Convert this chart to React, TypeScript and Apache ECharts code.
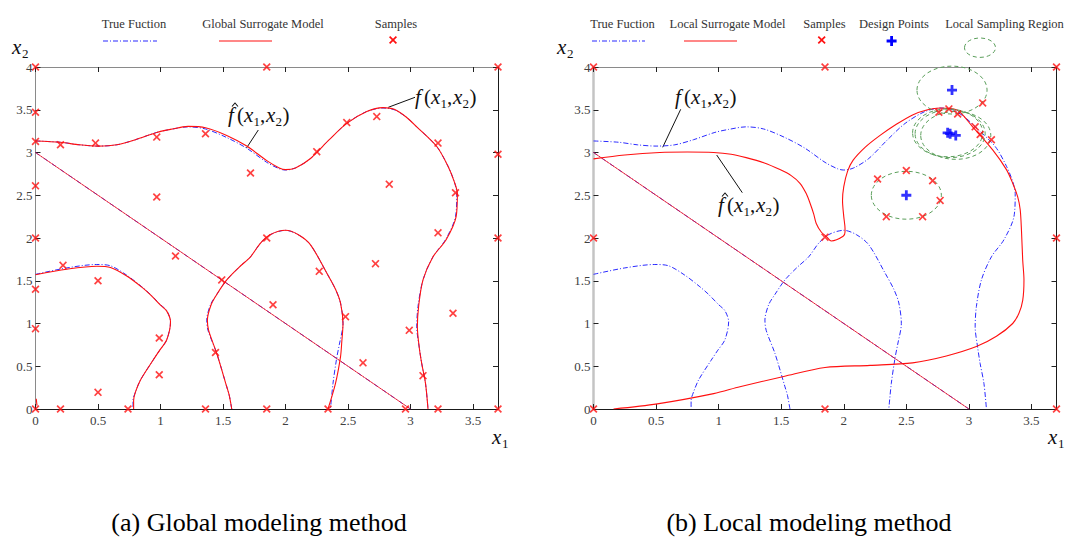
import React, { useEffect, useRef } from "react";
import * as echarts from "echarts";

const FONT = '"Liberation Serif", "Times New Roman", serif';
const BLUE = "#2b2bff";
const RED = "#ff1010";
const GREEN = "#5a9e5a";

const X_MIN = 0;
const X_MAX = 3.7;
const X_STEP = 0.5;
const Y_MIN = 0;
const Y_MAX = 4;
const Y_STEP = 0.5;

// True function contour f(x1,x2) (same in both panels)
const trueTop = [
  [0, 3.135], [0.2, 3.12], [0.35, 3.09], [0.5, 3.075], [0.65, 3.09], [0.8, 3.15],
  [0.97, 3.235], [1.08, 3.27], [1.22, 3.3], [1.36, 3.275], [1.53, 3.175], [1.69, 3.05],
  [1.85, 2.885], [1.95, 2.81], [2.0, 2.795], [2.08, 2.82], [2.2, 2.93], [2.35, 3.15],
  [2.49, 3.34], [2.65, 3.48], [2.78, 3.52], [2.87, 3.5], [2.97, 3.41], [3.05, 3.3],
  [3.21, 3.07], [3.3, 2.84], [3.35, 2.66], [3.37, 2.52], [3.36, 2.25], [3.28, 1.98],
  [3.18, 1.78], [3.1, 1.51], [3.06, 1.2], [3.05, 0.96], [3.07, 0.72], [3.09, 0.53],
  [3.12, 0.3], [3.14, 0],
];
const trueLobe = [
  [0, 1.575], [0.25, 1.65], [0.49, 1.69], [0.6, 1.675], [0.73, 1.565], [0.85, 1.43],
  [0.92, 1.34], [1.0, 1.22], [1.05, 1.15], [1.08, 1.02], [1.05, 0.81], [0.99, 0.68],
  [0.94, 0.57], [0.84, 0.34], [0.8, 0.2], [0.78, 0.1], [0.78, 0],
];
const trueArch = [
  [1.57, 0], [1.55, 0.16], [1.53, 0.26], [1.45, 0.65], [1.38, 0.92], [1.37, 1.04],
  [1.4, 1.22], [1.45, 1.34], [1.53, 1.51], [1.63, 1.66], [1.72, 1.78], [1.8, 1.94],
  [1.88, 2.04], [2.0, 2.09], [2.1, 2.04], [2.2, 1.92], [2.33, 1.59], [2.4, 1.4],
  [2.44, 1.24], [2.46, 1.0], [2.43, 0.75], [2.41, 0.6], [2.38, 0.3], [2.36, 0],
];
const diagonal = [[0, 3], [3, 0]];

// Global surrogate model contour
const globalTop = [
  [0, 3.135], [0.2, 3.12], [0.35, 3.09], [0.5, 3.075], [0.65, 3.09], [0.8, 3.15],
  [0.97, 3.235], [1.08, 3.27], [1.22, 3.305], [1.36, 3.29], [1.53, 3.2], [1.69, 3.075],
  [1.85, 2.905], [1.95, 2.82], [2.0, 2.8], [2.08, 2.82], [2.2, 2.93], [2.35, 3.15],
  [2.49, 3.34], [2.65, 3.48], [2.78, 3.525], [2.87, 3.505], [2.97, 3.41], [3.05, 3.3],
  [3.21, 3.07], [3.3, 2.84], [3.35, 2.66], [3.375, 2.52], [3.365, 2.25], [3.285, 1.98],
  [3.18, 1.78], [3.1, 1.51], [3.065, 1.2], [3.055, 0.96], [3.07, 0.72], [3.09, 0.53],
  [3.12, 0.3], [3.14, 0],
];
const globalLobe = [
  [0, 1.57], [0.25, 1.635], [0.49, 1.67], [0.6, 1.655], [0.73, 1.555], [0.85, 1.425],
  [0.92, 1.335], [1.0, 1.215], [1.05, 1.145], [1.08, 1.02], [1.05, 0.81], [0.99, 0.68],
  [0.94, 0.57], [0.84, 0.34], [0.8, 0.2], [0.785, 0.1], [0.785, 0],
];
const globalArch = [
  [1.57, 0], [1.55, 0.16], [1.53, 0.26], [1.45, 0.65], [1.385, 0.92], [1.375, 1.04],
  [1.405, 1.22], [1.45, 1.34], [1.53, 1.51], [1.63, 1.66], [1.72, 1.78], [1.8, 1.94],
  [1.88, 2.04], [2.0, 2.09], [2.1, 2.04], [2.2, 1.92], [2.33, 1.59], [2.4, 1.4],
  [2.44, 1.24], [2.46, 1.0], [2.45, 0.78], [2.44, 0.61], [2.4, 0.3], [2.34, 0],
];
const globalOrigin = [[0.006, 0.12], [0.012, 0.04]];

// Local surrogate model contour
const localCurve = [
  [0, 2.925], [0.25, 2.97], [0.53, 3.0], [0.75, 3.005], [0.96, 3.0], [1.1, 2.98],
  [1.22, 2.94], [1.36, 2.88], [1.49, 2.8], [1.58, 2.73], [1.65, 2.64], [1.7, 2.52],
  [1.73, 2.41], [1.76, 2.28], [1.78, 2.17], [1.82, 2.07], [1.86, 2.02], [1.9, 1.965],
  [1.995, 2.02], [2.01, 2.07], [2.01, 2.11], [2.0, 2.25], [1.99, 2.44], [2.0, 2.6],
  [2.03, 2.78], [2.075, 2.91], [2.17, 3.06], [2.29, 3.2], [2.42, 3.33], [2.55, 3.44],
  [2.67, 3.5], [2.77, 3.52], [2.9, 3.5], [3.03, 3.3], [3.19, 3.03], [3.3, 2.8],
  [3.35, 2.64], [3.39, 2.48], [3.41, 2.33], [3.42, 2.09], [3.43, 1.74], [3.44, 1.51],
  [3.43, 1.27], [3.4, 1.12], [3.35, 1.0], [3.22, 0.85], [3.06, 0.73], [2.82, 0.62],
  [2.55, 0.54], [2.21, 0.51], [1.85, 0.485], [1.52, 0.38], [1.17, 0.26], [0.96, 0.18],
  [0.51, 0.06], [0.16, 0],
];

const globalSamples = [
  [0, 4], [1.85, 4], [3.7, 4],
  [0, 3.47], [0, 3.13], [0.2, 3.09], [0.48, 3.11], [0.97, 3.18], [1.36, 3.22], [1.72, 2.76],
  [0.97, 2.48], [0, 2.61], [0, 2.0], [1.85, 2.0],
  [2.25, 3.01], [2.49, 3.35], [2.73, 3.42], [3.22, 3.11], [2.83, 2.63], [3.36, 2.53],
  [3.7, 2.98], [3.22, 2.06], [3.7, 2.0],
  [0.22, 1.68], [0.5, 1.5], [0, 1.4], [0, 0.94], [1.12, 1.79], [1.49, 1.51], [0.99, 0.83],
  [0.99, 0.4], [0.5, 0.195], [1.44, 0.66],
  [0, 0], [0.2, 0], [0.74, 0], [1.36, 0], [1.85, 0],
  [2.72, 1.7], [2.27, 1.61], [1.9, 1.22], [2.48, 1.08], [3.34, 1.12], [2.99, 0.92],
  [2.62, 0.54], [3.1, 0.39], [2.34, 0], [2.96, 0], [3.22, 0], [3.7, 0],
];
const localSamples = [
  [0, 4], [1.85, 4], [3.7, 4], [0, 2], [1.85, 2.01], [3.7, 2], [0, 0], [1.85, 0], [3.7, 0],
  [3.11, 3.58], [2.76, 3.47], [2.84, 3.51], [2.91, 3.45], [3.05, 3.3], [3.09, 3.21], [3.18, 3.15],
  [2.27, 2.69], [2.5, 2.79], [2.71, 2.67], [2.77, 2.44], [2.34, 2.25], [2.63, 2.25],
];
const designPoints = [[2.865, 3.73], [2.83, 3.23], [2.85, 3.22], [2.895, 3.2], [2.5, 2.5]];
// [centre x1, centre x2, radius]
const samplingRegions = [
  [2.865, 3.73, 0.28], [2.83, 3.23, 0.28], [2.85, 3.22, 0.28], [2.895, 3.2, 0.28], [2.5, 2.5, 0.28],
];

const CROSS = "path://M0,1.5L1.5,0L5,3.5L8.5,0L10,1.5L6.5,5L10,8.5L8.5,10L5,6.5L1.5,10L0,8.5L3.5,5Z";
const PLUS = "path://M3.6,0H6.4V3.6H10V6.4H6.4V10H3.6V6.4H0V3.6H3.6Z";

function crossPts(cx: number, cy: number, s: number) {
  const u = [[0, 1.5], [1.5, 0], [5, 3.5], [8.5, 0], [10, 1.5], [6.5, 5], [10, 8.5], [8.5, 10], [5, 6.5], [1.5, 10], [0, 8.5], [3.5, 5]];
  return u.map(([a, b]) => [cx + (a - 5) * s / 10, cy + (b - 5) * s / 10]);
}
function plusPts(cx: number, cy: number, s: number) {
  const u = [[3.6, 0], [6.4, 0], [6.4, 3.6], [10, 3.6], [10, 6.4], [6.4, 6.4], [6.4, 10], [3.6, 10], [3.6, 6.4], [0, 6.4], [0, 3.6], [3.6, 3.6]];
  return u.map(([a, b]) => [cx + (a - 5) * s / 10, cy + (b - 5) * s / 10]);
}

function mathLabel(x0: number, base: number, hat: boolean) {
  const s = 21;
  const ss = 13;
  const main = (t: string, dx: number, italic: boolean) => ({
    type: "text", x: x0 + dx, y: base - 0.34 * s,
    style: { text: t, font: `${italic ? "italic " : ""}${s}px ${FONT}`, fill: "#111", textVerticalAlign: "middle" },
  });
  const sub = (t: string, dx: number) => ({
    type: "text", x: x0 + dx, y: base + 4 - 0.34 * ss,
    style: { text: t, font: `${ss}px ${FONT}`, fill: "#111", textVerticalAlign: "middle" },
  });
  const els: any[] = [
    main("f", 0, true), main("(", 9, false), main("x", 16, true), sub("1", 25.5),
    main(",", 32, false), main("x", 38, true), sub("2", 47.5), main(")", 54.5, false),
  ];
  if (hat) {
    const top = base - 19;
    els.push({
      type: "polyline",
      shape: { points: [[x0 + 4, top + 3.5], [x0 + 7, top], [x0 + 10, top + 3.5]] },
      style: { stroke: "#111", lineWidth: 1.1, fill: "none" },
    });
  }
  return els;
}

function axisTitle(x0: number, base: number, subText: string) {
  return [
    { type: "text", x: x0, y: base - 0.34 * 21, style: { text: "x", font: `italic 21px ${FONT}`, fill: "#111", textVerticalAlign: "middle" } },
    { type: "text", x: x0 + 10, y: base + 4 - 0.34 * 13, style: { text: subText, font: `13px ${FONT}`, fill: "#111", textVerticalAlign: "middle" } },
  ];
}

function legendText(cx: number, text: string) {
  return { type: "text", x: cx, y: 24, style: { text, font: `12.5px ${FONT}`, fill: "#333", textAlign: "center", textVerticalAlign: "middle" } };
}
function legendLine(x1: number, x2: number, color: string, dash: number[] | null) {
  return { type: "line", shape: { x1, y1: 41, x2, y2: 41 }, style: { stroke: color, lineWidth: 1.2, lineDash: dash || undefined } };
}

function buildGraphic() {
  const els: any[] = [];
  // left legend
  els.push(legendText(134, "True Fuction"), legendLine(103, 157, BLUE, [5, 2, 1, 2]));
  els.push(legendText(263, "Global Surrogate Model"), legendLine(219, 272, RED, null));
  els.push(legendText(396, "Samples"), { type: "polygon", shape: { points: crossPts(393, 40, 8) }, style: { fill: RED } });
  // right legend
  els.push(legendText(622.5, "True Fuction"), legendLine(592, 645, BLUE, [5, 2, 1, 2]));
  els.push(legendText(727.5, "Local Surrogate Model"), legendLine(684, 737, RED, null));
  els.push(legendText(824.5, "Samples"), { type: "polygon", shape: { points: crossPts(821.7, 40, 8) }, style: { fill: RED } });
  els.push(legendText(894, "Design Points"), { type: "polygon", shape: { points: plusPts(891.6, 41, 10) }, style: { fill: "#0000ff" } });
  els.push(legendText(1004.5, "Local Sampling Region"), {
    type: "ellipse", shape: { cx: 980, cy: 47.7, rx: 15.5, ry: 9.7 },
    style: { fill: "none", stroke: GREEN, lineWidth: 1, lineDash: [4, 3] },
  });
  // axis titles
  els.push(...axisTitle(12, 54, "2"), ...axisTitle(492, 444, "1"));
  els.push(...axisTitle(557, 54, "2"), ...axisTitle(1048, 444, "1"));
  // annotations
  els.push(...mathLabel(415, 104, false), ...mathLabel(228, 122, true));
  els.push({ type: "line", shape: { x1: 415, y1: 97.3, x2: 388.3, y2: 107.3 }, style: { stroke: "#111", lineWidth: 1 } });
  els.push({ type: "line", shape: { x1: 258.3, y1: 130, x2: 246.5, y2: 148 }, style: { stroke: "#111", lineWidth: 1 } });
  els.push(...mathLabel(675, 104, false), ...mathLabel(718, 212, true));
  els.push({ type: "line", shape: { x1: 680.7, y1: 109.3, x2: 662.7, y2: 147.3 }, style: { stroke: "#111", lineWidth: 1 } });
  els.push({ type: "line", shape: { x1: 742.3, y1: 192.7, x2: 716.7, y2: 155 }, style: { stroke: "#111", lineWidth: 1 } });
  // captions
  els.push({ type: "text", x: 259, y: 522, style: { text: "(a) Global modeling method", font: `26px ${FONT}`, fill: "#000", textAlign: "center", textVerticalAlign: "middle" } });
  els.push({ type: "text", x: 809, y: 522, style: { text: "(b) Local modeling method", font: `26px ${FONT}`, fill: "#000", textAlign: "center", textVerticalAlign: "middle" } });
  return els;
}

function xAxisDef(gridIndex: number, position: string, showLabel: boolean, color: string, width: number) {
  return {
    type: "value", gridIndex, position, min: X_MIN, max: X_MAX, interval: X_STEP,
    axisLine: { show: true, onZero: false, lineStyle: { color, width } },
    axisTick: { show: true, inside: true, length: 5, lineStyle: { color: "#222", width: 1 } },
    axisLabel: {
      show: showLabel, margin: 5, fontFamily: FONT, fontSize: 13, color: "#404040",
      formatter: (v: number) => (Math.abs(v - X_MAX) < 1e-9 ? "" : String(+v.toFixed(2))),
    },
    splitLine: { show: false },
  };
}
function yAxisDef(gridIndex: number, position: string, showLabel: boolean, color: string, width: number) {
  return {
    type: "value", gridIndex, position, min: Y_MIN, max: Y_MAX, interval: Y_STEP,
    axisLine: { show: true, onZero: false, lineStyle: { color, width } },
    axisTick: { show: true, inside: true, length: 5, lineStyle: { color: "#222", width: 1 } },
    axisLabel: { show: showLabel, margin: 3, fontFamily: FONT, fontSize: 13, color: "#404040" },
    splitLine: { show: false },
  };
}

function trueLine(data: number[][], ax: number) {
  return {
    type: "line", xAxisIndex: ax, yAxisIndex: ax, data, symbol: "none", smooth: 0.3, silent: true, z: 2,
    lineStyle: { color: BLUE, width: 1, type: [5, 2, 1, 2] },
  };
}
function modelLine(data: number[][], ax: number, width = 1.1) {
  return {
    type: "line", xAxisIndex: ax, yAxisIndex: ax, data, symbol: "none", smooth: 0.3, silent: true, z: 3,
    lineStyle: { color: RED, width },
  };
}

export default function App() {
  const ref = useRef<HTMLDivElement>(null);
  useEffect(() => {
    if (!ref.current) return;
    const chart = echarts.init(ref.current, null, { renderer: "svg" });
    const series: any[] = [
      trueLine(trueTop, 0), trueLine(trueLobe, 0), trueLine(trueArch, 0), trueLine(diagonal, 0),
      modelLine(globalTop, 0), modelLine(globalLobe, 0), modelLine(globalArch, 0), modelLine(diagonal, 0, 0.8),
      modelLine(globalOrigin, 0),
      trueLine(trueTop, 1), trueLine(trueLobe, 1), trueLine(trueArch, 1), trueLine(diagonal, 1),
      modelLine(localCurve, 1), modelLine(diagonal, 1, 0.8),
      {
        type: "custom", xAxisIndex: 1, yAxisIndex: 1, data: samplingRegions, silent: true, z: 4,
        renderItem: (params: any, api: any) => {
          const c = api.coord([api.value(0), api.value(1)]);
          const s = api.size([api.value(2), api.value(2)]);
          return {
            type: "ellipse",
            shape: { cx: c[0], cy: c[1], rx: s[0], ry: s[1] },
            style: { fill: "none", stroke: GREEN, lineWidth: 1, lineDash: [4, 3] },
          };
        },
      },
      {
        type: "scatter", xAxisIndex: 0, yAxisIndex: 0, data: globalSamples, symbol: CROSS, symbolSize: 8,
        itemStyle: { color: RED }, clip: false, z: 6, silent: true,
      },
      {
        type: "scatter", xAxisIndex: 1, yAxisIndex: 1, data: localSamples, symbol: CROSS, symbolSize: 8,
        itemStyle: { color: RED }, clip: false, z: 6, silent: true,
      },
      {
        type: "scatter", xAxisIndex: 1, yAxisIndex: 1, data: designPoints, symbol: PLUS, symbolSize: 10,
        itemStyle: { color: "#0000ff" }, clip: false, z: 7, silent: true,
      },
    ];
    chart.setOption({
      animation: false,
      backgroundColor: "#ffffff",
      grid: [
        { left: 35.5, top: 67, width: 462.5, height: 342 },
        { left: 593.5, top: 67, width: 463, height: 342 },
      ],
      xAxis: [
        xAxisDef(0, "bottom", true, "#1a1a1a", 1),
        xAxisDef(1, "bottom", true, "#1a1a1a", 1),
        xAxisDef(0, "top", false, "#8a8a8a", 1),
        xAxisDef(1, "top", false, "#8a8a8a", 1),
      ],
      yAxis: [
        yAxisDef(0, "left", true, "#8a8a8a", 1),
        yAxisDef(1, "left", true, "#c4c4c4", 2.5),
        yAxisDef(0, "right", false, "#1a1a1a", 1),
        yAxisDef(1, "right", false, "#1a1a1a", 1),
      ],
      series,
      graphic: buildGraphic(),
    });
    return () => chart.dispose();
  }, []);
  return (
    <div
      ref={ref}
      style={{ position: "absolute", left: 0, top: 0, width: 1067, height: 541, background: "#fff" }}
    />
  );
}
